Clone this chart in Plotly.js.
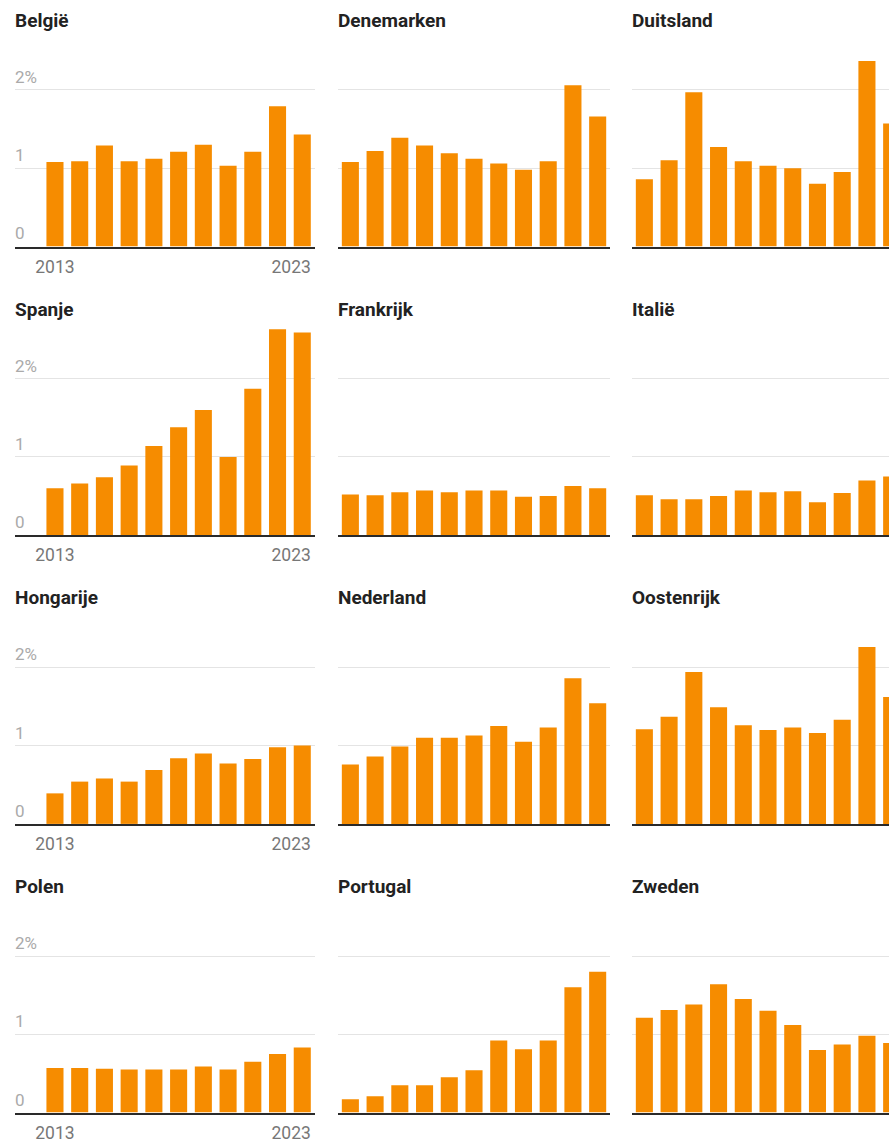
<!DOCTYPE html>
<html>
<head>
<meta charset="utf-8">
<script src="https://cdn.plot.ly/plotly-3.0.1.min.js"></script>
<style>
html,body{margin:0;padding:0;overflow:hidden;background:#fff;}
#chart{width:910px;height:1141px;}
</style>
</head>
<body>
<div id="chart"></div>
<script>
// ---- data ----
const years = [2013, 2014, 2015, 2016, 2017, 2018, 2019, 2020, 2021, 2022, 2023];
const countries = ['België', 'Denemarken', 'Duitsland', 'Spanje', 'Frankrijk', 'Italië',
                   'Hongarije', 'Nederland', 'Oostenrijk', 'Polen', 'Portugal', 'Zweden'];
const belgie     = [1.08, 1.09, 1.29, 1.09, 1.12, 1.21, 1.30, 1.03, 1.21, 1.79, 1.43];
const denemarken = [1.08, 1.22, 1.39, 1.29, 1.19, 1.12, 1.06, 0.98, 1.09, 2.06, 1.66];
const duitsland  = [0.86, 1.10, 1.97, 1.27, 1.09, 1.03, 1.00, 0.80, 0.95, 2.37, 1.57];
const spanje     = [0.60, 0.66, 0.74, 0.89, 1.14, 1.38, 1.60, 1.00, 1.87, 2.63, 2.59];
const frankrijk  = [0.52, 0.51, 0.55, 0.57, 0.55, 0.57, 0.57, 0.49, 0.50, 0.63, 0.60];
const italie     = [0.51, 0.46, 0.46, 0.50, 0.57, 0.55, 0.56, 0.42, 0.54, 0.70, 0.75];
const hongarije  = [0.39, 0.54, 0.58, 0.54, 0.69, 0.84, 0.90, 0.77, 0.83, 0.98, 1.00];
const nederland  = [0.76, 0.86, 0.99, 1.10, 1.10, 1.13, 1.25, 1.05, 1.23, 1.86, 1.54];
const oostenrijk = [1.21, 1.37, 1.94, 1.49, 1.26, 1.20, 1.23, 1.16, 1.33, 2.26, 1.62];
const polen      = [0.57, 0.57, 0.56, 0.55, 0.55, 0.55, 0.59, 0.55, 0.65, 0.75, 0.83];
const portugal   = [0.17, 0.21, 0.35, 0.35, 0.45, 0.54, 0.92, 0.81, 0.92, 1.60, 1.80];
const zweden     = [1.21, 1.31, 1.38, 1.64, 1.45, 1.30, 1.12, 0.80, 0.87, 0.98, 0.89];
const series = [belgie, denemarken, duitsland, spanje, frankrijk, italie,
                hongarije, nederland, oostenrijk, polen, portugal, zweden];
const yTickVals = [0, 1, 2];
const yTickText = ['0', '1', '2%'];
const xTickText = ['2013', '2023'];

// ---- layout geometry (pixels) ----
const W = 910, H = 1141;
const colLeft = [15, 338, 632];
const colDataLeft = [42.6, 338, 632];
const colRight = [315, 610, 904];
const slot = 24.73;
const rowBase = [246.5, 535.2, 823.9, 1112.6];
const pxPerUnit = 78.3;
const yMax = 2.75;
const ORANGE = '#f68c00';

const traces = [];
const layout = {
  width: W, height: H,
  margin: {l: 0, r: 0, t: 0, b: 0},
  paper_bgcolor: '#fff', plot_bgcolor: 'rgba(0,0,0,0)',
  showlegend: false,
  font: {family: 'Roboto, sans-serif', color: '#222'},
  annotations: []
};

series.forEach((vals, i) => {
  const r = Math.floor(i / 3), c = i % 3;
  const n = i === 0 ? '' : String(i + 1);
  const xa = 'xaxis' + n, ya = 'yaxis' + n;
  traces.push({
    type: 'bar', x: years, y: vals, width: 0.69,
    marker: {color: ORANGE, line: {width: 0}},
    xaxis: 'x' + n, yaxis: 'y' + n, hoverinfo: 'skip'
  });
  const xmin = 2012.5 - (colDataLeft[c] - colLeft[c]) / slot;
  const xmax = xmin + (colRight[c] - colLeft[c]) / slot;
  const bottom = rowBase[r];
  const top = bottom - yMax * pxPerUnit;
  layout[xa] = {
    domain: [colLeft[c] / W, colRight[c] / W],
    anchor: 'y' + n,
    range: [xmin, xmax],
    showgrid: false, zeroline: false,
    showline: true, linecolor: '#2a2a2a', linewidth: 2,
    showticklabels: c === 0,
    tickvals: [2013, 2022.55],
    ticktext: xTickText,
    ticks: c === 0 ? 'outside' : '', ticklen: 3, tickcolor: 'rgba(0,0,0,0)',
    tickfont: {family: 'Roboto, sans-serif', size: 17.5, color: '#777'},
    fixedrange: true
  };
  layout[ya] = {
    domain: [1 - bottom / H, 1 - top / H],
    anchor: 'x' + n,
    range: [0, yMax],
    showgrid: true, gridcolor: '#e4e4e4', gridwidth: 1,
    zeroline: false, showline: false,
    tickvals: yTickVals, ticktext: yTickText,
    showticklabels: c === 0,
    ticklabelposition: 'inside',
    ticklabelshift: -13,
    ticklabelstandoff: -3,
    tickfont: {family: 'Roboto, sans-serif', size: 17, color: '#aaa'},
    fixedrange: true
  };
  layout.annotations.push({
    text: '<b>' + countries[i] + '</b>',
    xref: 'paper', yref: 'paper',
    x: (colLeft[c] - 2) / W,
    y: 1 - (rowBase[r] - 226) / H,
    xanchor: 'left', yanchor: 'middle',
    showarrow: false,
    font: {family: 'Roboto, sans-serif', size: 19, color: '#222'}
  });
});

Plotly.newPlot('chart', traces, layout, {staticPlot: true, displayModeBar: false});
</script>
</body>
</html>
